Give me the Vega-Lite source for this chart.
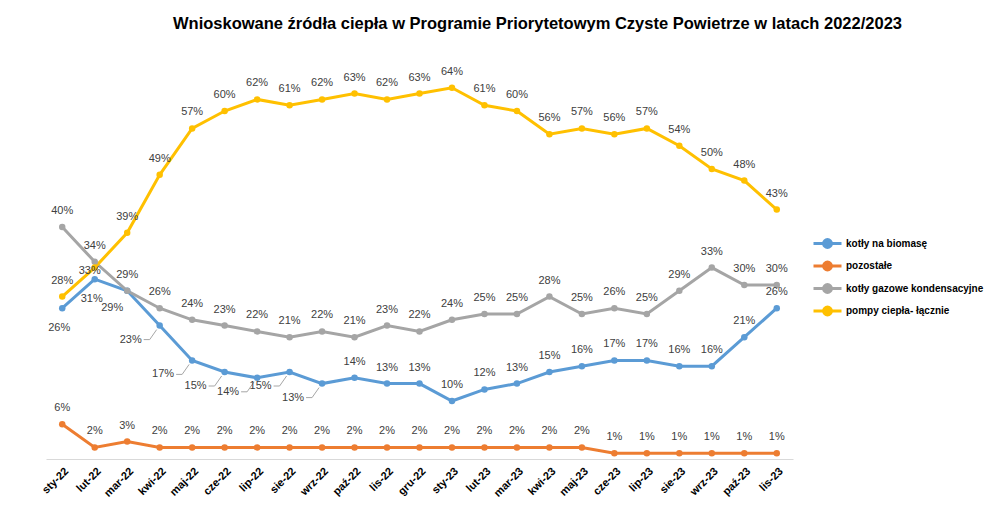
{
  "$schema": "https://vega.github.io/schema/vega-lite/v6.json",
  "autosize": {"type": "none"},
  "padding": {"left": 46, "top": 53, "right": 201, "bottom": 66},
  "width": 747,
  "height": 406,
  "background": "#ffffff",
  "title": {
    "text": "Wnioskowane źródła ciepła w Programie Priorytetowym Czyste Powietrze w latach 2022/2023",
    "font": "Liberation Sans", "fontSize": 16.5, "fontWeight": "bold", "color": "#000000",
    "anchor": "middle", "dx": 118, "offset": 21
  },
  "data": {
    "values": [
      {"m": "sty-22", "kotły na biomasę": 0.26, "pozostałe": 0.06, "kotły gazowe kondensacyjne": 0.40, "pompy ciepła- łącznie": 0.28},
      {"m": "lut-22", "kotły na biomasę": 0.31, "pozostałe": 0.02, "kotły gazowe kondensacyjne": 0.34, "pompy ciepła- łącznie": 0.33},
      {"m": "mar-22", "kotły na biomasę": 0.29, "pozostałe": 0.03, "kotły gazowe kondensacyjne": 0.29, "pompy ciepła- łącznie": 0.39},
      {"m": "kwi-22", "kotły na biomasę": 0.23, "pozostałe": 0.02, "kotły gazowe kondensacyjne": 0.26, "pompy ciepła- łącznie": 0.49},
      {"m": "maj-22", "kotły na biomasę": 0.17, "pozostałe": 0.02, "kotły gazowe kondensacyjne": 0.24, "pompy ciepła- łącznie": 0.57},
      {"m": "cze-22", "kotły na biomasę": 0.15, "pozostałe": 0.02, "kotły gazowe kondensacyjne": 0.23, "pompy ciepła- łącznie": 0.60},
      {"m": "lip-22", "kotły na biomasę": 0.14, "pozostałe": 0.02, "kotły gazowe kondensacyjne": 0.22, "pompy ciepła- łącznie": 0.62},
      {"m": "sie-22", "kotły na biomasę": 0.15, "pozostałe": 0.02, "kotły gazowe kondensacyjne": 0.21, "pompy ciepła- łącznie": 0.61},
      {"m": "wrz-22", "kotły na biomasę": 0.13, "pozostałe": 0.02, "kotły gazowe kondensacyjne": 0.22, "pompy ciepła- łącznie": 0.62},
      {"m": "paź-22", "kotły na biomasę": 0.14, "pozostałe": 0.02, "kotły gazowe kondensacyjne": 0.21, "pompy ciepła- łącznie": 0.63},
      {"m": "lis-22", "kotły na biomasę": 0.13, "pozostałe": 0.02, "kotły gazowe kondensacyjne": 0.23, "pompy ciepła- łącznie": 0.62},
      {"m": "gru-22", "kotły na biomasę": 0.13, "pozostałe": 0.02, "kotły gazowe kondensacyjne": 0.22, "pompy ciepła- łącznie": 0.63},
      {"m": "sty-23", "kotły na biomasę": 0.10, "pozostałe": 0.02, "kotły gazowe kondensacyjne": 0.24, "pompy ciepła- łącznie": 0.64},
      {"m": "lut-23", "kotły na biomasę": 0.12, "pozostałe": 0.02, "kotły gazowe kondensacyjne": 0.25, "pompy ciepła- łącznie": 0.61},
      {"m": "mar-23", "kotły na biomasę": 0.13, "pozostałe": 0.02, "kotły gazowe kondensacyjne": 0.25, "pompy ciepła- łącznie": 0.60},
      {"m": "kwi-23", "kotły na biomasę": 0.15, "pozostałe": 0.02, "kotły gazowe kondensacyjne": 0.28, "pompy ciepła- łącznie": 0.56},
      {"m": "maj-23", "kotły na biomasę": 0.16, "pozostałe": 0.02, "kotły gazowe kondensacyjne": 0.25, "pompy ciepła- łącznie": 0.57},
      {"m": "cze-23", "kotły na biomasę": 0.17, "pozostałe": 0.01, "kotły gazowe kondensacyjne": 0.26, "pompy ciepła- łącznie": 0.56},
      {"m": "lip-23", "kotły na biomasę": 0.17, "pozostałe": 0.01, "kotły gazowe kondensacyjne": 0.25, "pompy ciepła- łącznie": 0.57},
      {"m": "sie-23", "kotły na biomasę": 0.16, "pozostałe": 0.01, "kotły gazowe kondensacyjne": 0.29, "pompy ciepła- łącznie": 0.54},
      {"m": "wrz-23", "kotły na biomasę": 0.16, "pozostałe": 0.01, "kotły gazowe kondensacyjne": 0.33, "pompy ciepła- łącznie": 0.50},
      {"m": "paź-23", "kotły na biomasę": 0.21, "pozostałe": 0.01, "kotły gazowe kondensacyjne": 0.30, "pompy ciepła- łącznie": 0.48},
      {"m": "lis-23", "kotły na biomasę": 0.26, "pozostałe": 0.01, "kotły gazowe kondensacyjne": 0.30, "pompy ciepła- łącznie": 0.43}
    ]
  },
  "transform": [
    {"fold": ["kotły na biomasę", "pozostałe", "kotły gazowe kondensacyjne", "pompy ciepła- łącznie"], "as": ["series", "value"]}
  ],
  "encoding": {
    "x": {"field": "m", "type": "nominal", "sort": null,
      "scale": {"type": "point", "padding": 0.5},
      "axis": {"title": null, "labelAngle": -45, "labelFont": "Liberation Sans", "labelFontSize": 11, "labelFontWeight": "bold", "labelColor": "#000000", "ticks": false, "domainColor": "#D9D9D9", "domainWidth": 1, "labelPadding": 6, "grid": false}},
    "y": {"field": "value", "type": "quantitative", "scale": {"domain": [0, 0.7], "nice": false, "zero": true}, "axis": null}
  },
  "layer": [
    {
      "mark": {"type": "line", "strokeWidth": 3},
      "encoding": {
        "color": {"field": "series", "type": "nominal",
          "scale": {"domain": ["kotły na biomasę", "pozostałe", "kotły gazowe kondensacyjne", "pompy ciepła- łącznie"], "range": ["#5B9BD5", "#ED7D31", "#A5A5A5", "#FFC000"]},
          "legend": {"orient": "none", "legendX": 773, "legendY": 182, "title": null, "padding": 0,
            "labelFont": "Liberation Sans", "labelFontSize": 10, "labelFontWeight": "bold", "labelColor": "#000000",
            "symbolType": "M-2,0L2,0M-0.56,0A0.56,0.56,0,1,1,0.56,0A0.56,0.56,0,1,1,-0.56,0",
            "symbolSize": 196, "symbolStrokeWidth": 3, "rowPadding": 1.5, "labelOffset": 10,
            "encode": {"symbols": {"update": {"fill": {"scale": "color", "field": "value"}, "stroke": {"scale": "color", "field": "value"}, "opacity": {"value": 1}}}}}
        }
      }
    },
    {
      "mark": {"type": "point", "filled": true, "size": 42, "opacity": 1},
      "encoding": {"color": {"field": "series", "type": "nominal"}}
    },
    {
      "transform": [{"filter": {"and": [{"field": "series", "equal": "kotły na biomasę"}, {"field": "m", "oneOf": ["kwi-22", "maj-22", "cze-22", "lip-22", "sie-22", "wrz-22"]}]}}],
      "mark": {"type": "rule", "color": "#A6A6A6", "strokeWidth": 1, "xOffset": -3, "yOffset": 4, "x2Offset": -10, "y2Offset": 14},
      "encoding": {"x2": {"field": "m"}, "y2": {"field": "value"}}
    },
    {
      "transform": [{"filter": {"and": [{"field": "series", "equal": "kotły na biomasę"}, {"field": "m", "oneOf": ["kwi-22", "maj-22", "cze-22", "lip-22", "sie-22", "wrz-22"]}]}}],
      "mark": {"type": "rule", "color": "#A6A6A6", "strokeWidth": 1, "xOffset": -10, "yOffset": 14, "x2Offset": -16, "y2Offset": 14},
      "encoding": {"x2": {"field": "m"}, "y2": {"field": "value"}}
    },
    {
      "transform": [{"filter": {"not": {"or": [
        {"and": [{"field": "series", "equal": "kotły na biomasę"}, {"field": "m", "oneOf": ["sty-22", "lut-22", "mar-22", "kwi-22", "maj-22", "cze-22", "lip-22", "sie-22", "wrz-22"]}]},
        {"and": [{"field": "series", "equal": "pompy ciepła- łącznie"}, {"field": "m", "equal": "lut-22"}]}
      ]}}}],
      "mark": {"type": "text", "dy": -16, "font": "Liberation Sans", "fontSize": 11, "color": "#404040"},
      "encoding": {"text": {"field": "value", "type": "quantitative", "format": ".0%"}}
    },
    {
      "transform": [{"filter": {"and": [{"field": "series", "equal": "kotły na biomasę"}, {"field": "m", "oneOf": ["kwi-22", "maj-22", "cze-22", "lip-22", "sie-22", "wrz-22"]}]}}],
      "mark": {"type": "text", "align": "right", "dx": -18, "dy": 14, "font": "Liberation Sans", "fontSize": 11, "color": "#404040"},
      "encoding": {"text": {"field": "value", "type": "quantitative", "format": ".0%"}}
    },
    {
      "transform": [{"filter": {"and": [{"field": "series", "equal": "kotły na biomasę"}, {"field": "m", "oneOf": ["sty-22", "lut-22"]}]}}],
      "mark": {"type": "text", "dx": -3, "dy": 20, "font": "Liberation Sans", "fontSize": 11, "color": "#404040"},
      "encoding": {"text": {"field": "value", "type": "quantitative", "format": ".0%"}}
    },
    {
      "transform": [{"filter": {"and": [{"field": "series", "equal": "kotły na biomasę"}, {"field": "m", "equal": "mar-22"}]}}],
      "mark": {"type": "text", "dx": -15, "dy": 17, "font": "Liberation Sans", "fontSize": 11, "color": "#404040"},
      "encoding": {"text": {"field": "value", "type": "quantitative", "format": ".0%"}}
    },
    {
      "transform": [{"filter": {"and": [{"field": "series", "equal": "pompy ciepła- łącznie"}, {"field": "m", "equal": "lut-22"}]}}],
      "mark": {"type": "text", "dx": -5, "dy": 3, "font": "Liberation Sans", "fontSize": 11, "color": "#404040"},
      "encoding": {"text": {"field": "value", "type": "quantitative", "format": ".0%"}}
    }
  ],
  "config": {"view": {"stroke": null}}
}
